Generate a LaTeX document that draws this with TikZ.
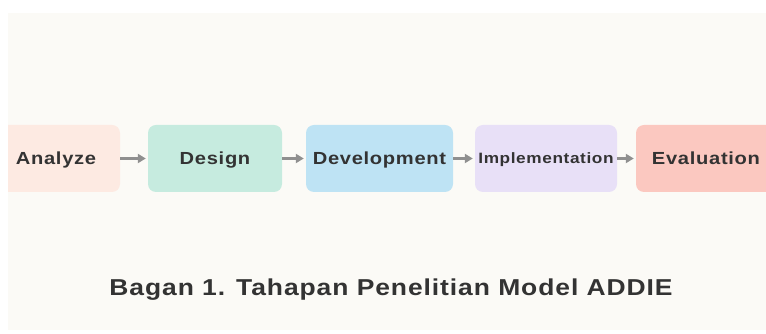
\documentclass[tikz,border=0pt]{standalone}
\usepackage{fontspec}
\setmainfont{Liberation Sans}[FakeStretch=1.15,LetterSpace=4]
\usepackage[dvipsnames]{xcolor}
\usepackage{tikz}
\usetikzlibrary{positioning}
\usetikzlibrary{arrows.meta}

\definecolor{paper}{HTML}{FBFAF6}
\definecolor{ink}{HTML}{333333}
\definecolor{arrowgray}{HTML}{8F8F8F}
\definecolor{analyzefill}{HTML}{FDEAE2}
\definecolor{designfill}{HTML}{C6EBDF}
\definecolor{developfill}{HTML}{BEE3F4}
\definecolor{implementfill}{HTML}{E8E0F7}
\definecolor{evaluatefill}{HTML}{FBC8C0}

\begin{document}
\begin{tikzpicture}[x=1pt,y=1pt,
  phase/.style={rounded corners=8pt,minimum height=67pt,inner sep=0pt,
    text height=12.5pt,text depth=0pt,text=ink,
    font=\fontsize{17.5}{20}\selectfont\bfseries},
  flow/.style={draw=arrowgray,line width=2.6pt,
    -{Triangle[length=8pt,width=9pt]},shorten >=2pt}]
\useasboundingbox (0,0) rectangle (766,334);
\fill[white] (0,0) rectangle (766,334);
\fill[paper] (8,4) rectangle (766,321);
\begin{scope}
\clip (8,4) rectangle (766,321);
\node[phase,fill=analyzefill,minimum width=128pt] (analyze) at (56,175.5) {Analyze};
\node[phase,fill=designfill,minimum width=134pt] (design) at (215,175.5) {Design};
\node[phase,fill=developfill,minimum width=147pt] (develop) at (379.5,175.5) {Development};
\node[phase,fill=implementfill,minimum width=142pt,text height=10.8pt,
  font=\fontsize{15}{17}\selectfont\bfseries] (implement) at (546,175.5) {Implementation};
\node[phase,fill=evaluatefill,minimum width=140pt] (evaluate) at (706,175.5) {Evaluation};
\end{scope}
\draw[flow] (analyze) -- (design);
\draw[flow] (design) -- (develop);
\draw[flow] (develop) -- (implement);
\draw[flow] (implement) -- (evaluate);
\node[anchor=base,text=ink,font=\fontsize{23}{27}\selectfont\bfseries] (caption) at (391,38)
{Bagan 1. Tahapan Penelitian Model ADDIE};
\end{tikzpicture}
\end{document}
